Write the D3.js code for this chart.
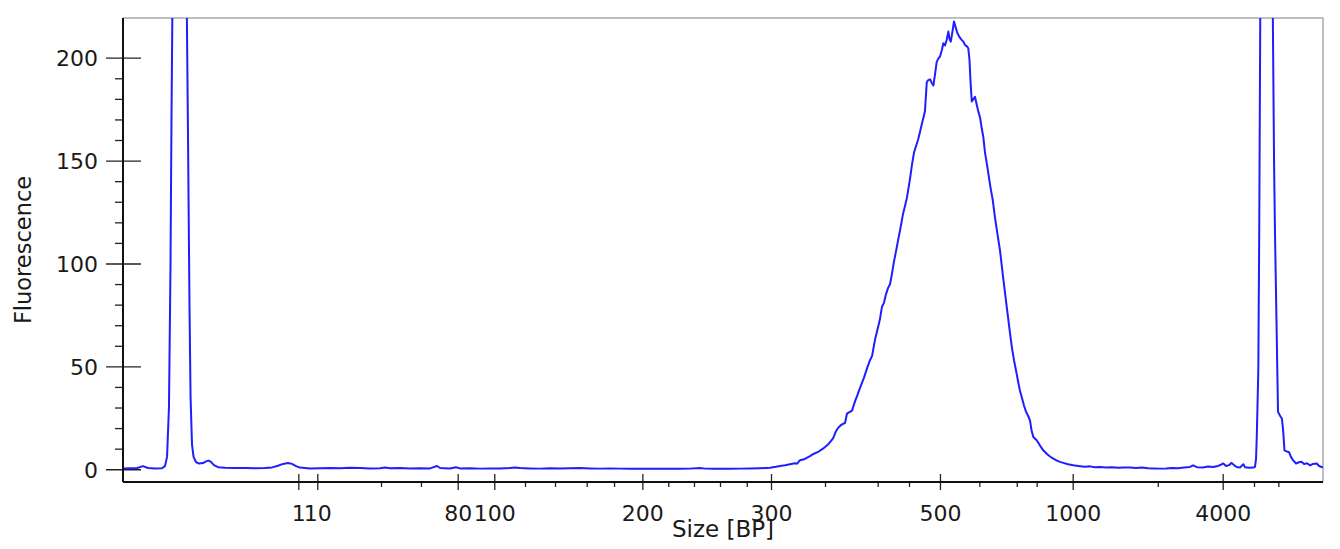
<!DOCTYPE html>
<html>
<head>
<meta charset="utf-8">
<script src="https://cdn.jsdelivr.net/npm/d3@7/dist/d3.min.js"></script>
<style>
  html, body { margin: 0; padding: 0; background: #fff; }
  svg { display: block; }
  text { font-family: "DejaVu Sans", sans-serif; fill: #1a1a1a; }
</style>
</head>
<body>
<svg id="chart" width="1340" height="549"></svg>
<script>
// ---- Data (migration time in seconds vs fluorescence) ----
const times = [
  20.00, 20.58, 21.17, 21.67, 22.08, 22.67, 23.25, 23.50, 23.67, 23.83,
  23.96, 24.04, 24.17, 24.33, 24.50, 24.71, 24.92, 25.13, 25.29, 25.42,
  25.54, 25.63, 25.75, 25.88, 26.08, 26.33, 26.67, 26.92, 27.13, 27.33,
  27.58, 27.92, 28.50, 29.33, 30.17, 31.00, 31.83, 32.42, 32.92, 33.33,
  33.75, 34.08, 34.42, 34.75, 35.58, 36.42, 37.25, 38.08, 38.92, 39.75,
  40.58, 41.42, 41.83, 42.25, 43.08, 43.92, 44.75, 45.58, 46.17, 46.42,
  47.25, 47.75, 48.08, 48.92, 49.75, 50.58, 51.42, 52.25, 52.67, 53.08,
  53.92, 54.75, 55.58, 56.42, 57.25, 58.08, 58.92, 59.75, 60.58, 61.42,
  62.25, 63.08, 63.92, 64.75, 65.58, 66.42, 67.25, 68.08, 68.50, 69.17,
  69.75, 70.58, 71.42, 72.25, 73.08, 73.92, 74.42, 74.75, 75.17, 75.58,
  76.00, 76.17, 76.42, 76.83, 77.25, 77.50, 77.92, 78.33, 78.75, 79.17,
  79.42, 79.58, 79.83, 80.17, 80.33, 80.75, 81.00, 81.17, 81.42, 81.58,
  81.75, 82.00, 82.25, 82.42, 82.67, 82.92, 83.08, 83.25, 83.42, 83.58,
  83.75, 83.92, 84.08, 84.25, 84.42, 84.58, 84.75, 85.00, 85.17, 85.33,
  85.58, 85.75, 85.92, 86.08, 86.25, 86.42, 86.58, 86.75, 86.83, 86.98,
  87.08, 87.25, 87.38, 87.53, 87.67, 87.81, 87.94, 88.08, 88.25, 88.36,
  88.50, 88.64, 88.78, 88.88, 88.98, 89.13, 89.25, 89.38, 89.53, 89.71,
  89.89, 90.03, 90.17, 90.33, 90.44, 90.54, 90.63, 90.73, 90.88, 91.00,
  91.13, 91.28, 91.42, 91.56, 91.69, 91.83, 92.00, 92.11, 92.29, 92.48,
  92.67, 92.88, 93.08, 93.33, 93.58, 93.75, 93.92, 94.08, 94.25, 94.42,
  94.58, 94.75, 94.89, 95.08, 95.25, 95.42, 95.58, 95.71, 95.86, 96.14,
  96.42, 96.69, 97.00, 97.25, 97.53, 97.83, 98.08, 98.36, 98.75, 99.19,
  99.75, 100.17, 100.58, 101.00, 101.42, 101.92, 102.42, 102.92, 103.42, 103.92,
  104.42, 104.92, 105.42, 105.92, 106.42, 106.92, 107.42, 107.92, 108.42, 108.92,
  109.17, 109.50, 110.00, 110.42, 110.83, 111.25, 111.50, 111.69, 111.92, 112.17,
  112.39, 112.58, 112.81, 113.08, 113.36, 113.50, 113.83, 114.17, 114.33, 114.42,
  114.48, 114.61, 114.69, 114.78, 114.92, 115.08, 115.25, 115.46, 115.63, 115.79,
  115.92, 116.00, 116.13, 116.25, 116.42, 116.58, 116.69, 116.79, 117.00, 117.17,
  117.33, 117.50, 117.75, 118.00, 118.21, 118.42, 118.67, 118.92, 119.17, 119.48,
  119.67, 119.88, 120.00
];
const fluorescence = [
  0.3, 0.5, 0.6, 1.5, 0.6, 0.4, 0.5, 1.5, 6, 30,
  100, 170, 260, 420, 560, 620, 560, 400, 240, 160,
  80, 35, 12, 6, 3.5, 2.8, 3.0, 3.8, 4.2, 3.6,
  2.0, 1.0, 0.7, 0.6, 0.6, 0.5, 0.6, 0.9, 1.7, 2.6,
  3.0, 2.6, 1.5, 0.8, 0.4, 0.5, 0.6, 0.5, 0.7, 0.6,
  0.4, 0.5, 0.9, 0.5, 0.6, 0.4, 0.5, 0.4, 1.6, 0.6,
  0.4, 1.0, 0.4, 0.5, 0.3, 0.4, 0.4, 0.6, 0.9, 0.6,
  0.4, 0.3, 0.5, 0.4, 0.5, 0.6, 0.4, 0.3, 0.4, 0.3,
  0.2, 0.3, 0.2, 0.3, 0.2, 0.2, 0.3, 0.6, 0.3, 0.2,
  0.3, 0.2, 0.3, 0.4, 0.5, 0.7, 1.2, 1.6, 1.9, 2.4,
  2.9, 2.7, 4.4, 5.0, 6.4, 7.3, 8.4, 10, 12, 15,
  18.5, 20, 21.5, 22.5, 27, 28.5, 33, 35.5, 39.5, 42,
  44.5, 49, 53, 55, 63, 69, 73, 79, 81, 85,
  88, 90, 95, 101, 106, 111, 116, 124, 128, 132,
  141, 148, 154, 157, 160, 164, 168, 172, 174, 188,
  189, 189.5, 188, 186.5, 192, 198, 199.5, 200.5, 204, 207,
  206, 208.7, 212.7, 209, 207.8, 213, 217.6, 215, 212, 210,
  208.7, 207.8, 206.2, 205.5, 204.6, 199, 188, 178.7, 180, 181,
  177.5, 173.8, 171, 165.7, 161.6, 154, 148, 143.8, 137, 130.8,
  122, 114, 106.5, 94, 82, 74, 66, 59, 53, 48,
  43, 38, 35.2, 31, 28, 26, 23.8, 19, 15.7, 14.1,
  11.5, 9.2, 7.4, 6.2, 5.2, 4.2, 3.6, 3.1, 2.4, 1.9,
  1.5, 1.2, 1.4, 1.0, 1.1, 0.8, 1.0, 0.7, 0.9, 0.8,
  0.6, 0.8, 0.5, 0.4, 0.3, 0.4, 0.6, 0.5, 0.8, 1.1,
  1.9, 1.0, 0.9, 1.3, 1.1, 1.6, 2.2, 2.8, 1.6, 2.0,
  3.1, 2.0, 1.1, 0.8, 2.4, 1.0, 0.7, 0.8, 1.1, 5,
  15.7, 48, 120, 230, 420, 580, 640, 560, 420, 240,
  150, 114.6, 70, 28, 26, 24.5, 18, 9.2, 8.6, 8.3,
  6, 4.4, 2.8, 3.4, 3.6, 2.5, 2.9, 1.9, 2.6, 2.8,
  1.6, 1.1, 1.0
];

// ---- Axis ticks ----
const xMajorTicks  = [34.61, 36.19, 47.89, 50.94, 63.28, 74.00, 88.08, 99.14, 111.64];
const xMajorLabels = ["1", "10", "80", "100", "200", "300", "500", "1000", "4000"];
const xMinorTicks  = [41.50, 44.83, 53.50, 56.00, 58.64, 60.92, 65.44, 67.58, 69.75, 71.98,
                      78.50, 82.89, 85.50, 91.36, 94.48, 96.14, 106.23, 114.25, 116.28];
const yMajorTicks  = [0, 50, 100, 150, 200];
const yMinorTicks  = [10, 20, 30, 40, 60, 70, 80, 90, 110, 120, 130, 140, 160, 170, 180, 190];
const xTitle = "Size [BP]";
const yTitle = "Fluorescence";

// ---- Layout ----
const W = 1340, H = 549;
const margin = { top: 18, right: 17, bottom: 67, left: 123 };
const innerW = W - margin.left - margin.right;
const innerH = H - margin.top - margin.bottom;

const svg = d3.select("#chart");

const x = d3.scaleLinear().domain([20, 120]).range([margin.left, margin.left + innerW]);
const y = d3.scaleLinear().domain([-6.2, 219.3]).range([margin.top + innerH, margin.top]);

// top / right frame (grey)
svg.append("path")
  .attr("d", `M${margin.left},${margin.top}H${margin.left + innerW}V${margin.top + innerH}`)
  .attr("fill", "none").attr("stroke", "#ababab").attr("stroke-width", 1.5);

// clip
svg.append("clipPath").attr("id", "plotclip")
  .append("rect")
  .attr("x", margin.left).attr("y", margin.top)
  .attr("width", innerW).attr("height", innerH);

// trace
const pts = times.map((t, i) => [t, fluorescence[i]]);
const line = d3.line().x(d => x(d[0])).y(d => y(d[1]));
svg.append("path")
  .datum(pts)
  .attr("clip-path", "url(#plotclip)")
  .attr("fill", "none")
  .attr("stroke", "#1e1eff")
  .attr("stroke-width", 2)
  .attr("stroke-linejoin", "round")
  .attr("d", line);

// ---- X axis ----
const xAxisG = svg.append("g").attr("transform", `translate(0,${margin.top + innerH})`);
// minor ticks
xAxisG.append("g")
  .call(d3.axisBottom(x).tickValues(xMinorTicks).tickSize(5).tickSizeOuter(0).tickFormat(""))
  .call(g => g.select(".domain").remove())
  .call(g => g.selectAll("line").attr("stroke", "#222").attr("stroke-width", 1.3));
// major ticks
xAxisG.append("g")
  .call(d3.axisBottom(x).tickValues(xMajorTicks).tickSizeOuter(0)
        .tickFormat((d, i) => xMajorLabels[i]))
  .call(g => g.select(".domain").remove())
  .call(g => g.selectAll("line").attr("y1", -8).attr("y2", 8)
               .attr("stroke", "#222").attr("stroke-width", 1.3))
  .call(g => g.selectAll("text").attr("y", 38.5).attr("dy", 0)
               .style("font-size", "22px").attr("fill", "#1a1a1a"));
// axis line
xAxisG.append("line")
  .attr("x1", margin.left).attr("x2", margin.left + innerW)
  .attr("stroke", "#111").attr("stroke-width", 2);

// ---- Y axis ----
const yAxisG = svg.append("g").attr("transform", `translate(${margin.left},0)`);
yAxisG.append("g")
  .call(d3.axisLeft(y).tickValues(yMinorTicks).tickSize(8).tickSizeOuter(0).tickFormat(""))
  .call(g => g.select(".domain").remove())
  .call(g => g.selectAll("line").attr("stroke", "#222").attr("stroke-width", 1.3));
yAxisG.append("g")
  .call(d3.axisLeft(y).tickValues(yMajorTicks).tickSizeOuter(0))
  .call(g => g.select(".domain").remove())
  .call(g => g.selectAll("line").attr("x1", 18).attr("x2", -17)
               .attr("stroke", "#222").attr("stroke-width", 1.3))
  .call(g => g.selectAll("text").attr("x", -25).attr("dy", "0.36em")
               .style("font-size", "22px").attr("fill", "#1a1a1a"));
yAxisG.append("line")
  .attr("y1", margin.top).attr("y2", margin.top + innerH)
  .attr("stroke", "#111").attr("stroke-width", 2);

// ---- Titles ----
svg.append("text")
  .attr("x", margin.left + innerW / 2).attr("y", 537)
  .attr("text-anchor", "middle")
  .style("font-size", "23px")
  .text(xTitle);

svg.append("text")
  .attr("transform", `translate(31,${margin.top + innerH / 2}) rotate(-90)`)
  .attr("text-anchor", "middle")
  .style("font-size", "22.5px")
  .text(yTitle);
</script>
</body>
</html>
